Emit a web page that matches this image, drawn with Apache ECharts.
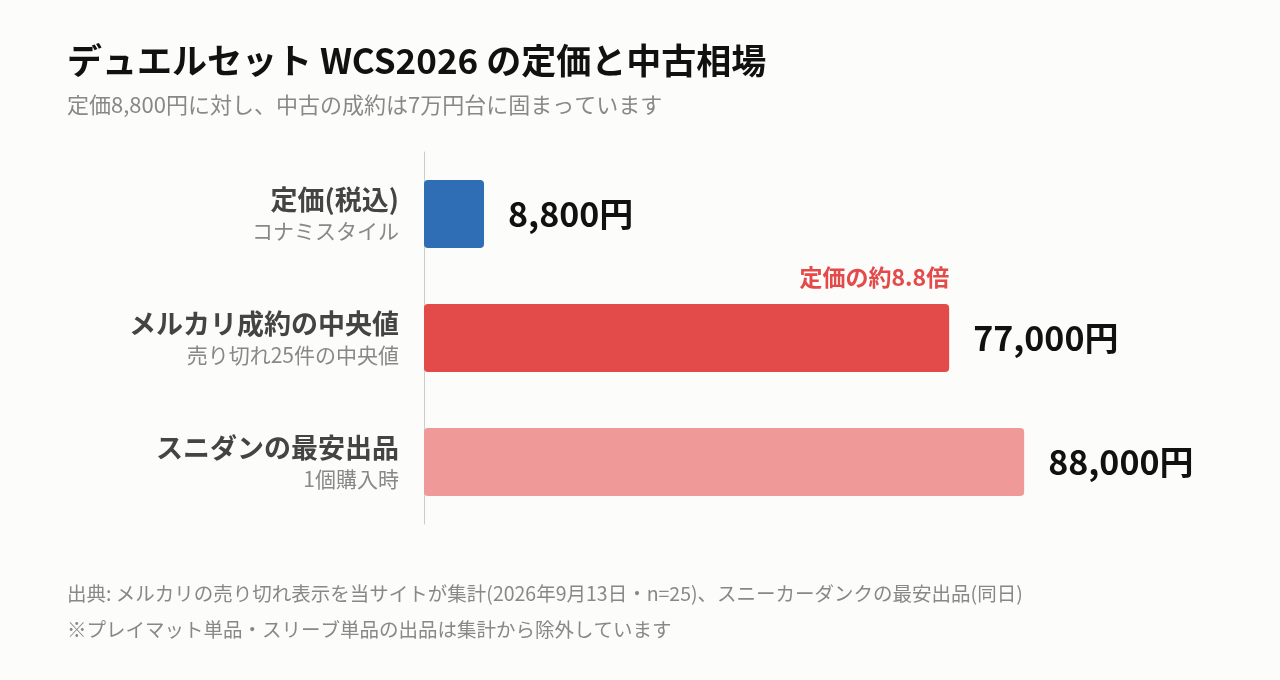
<!DOCTYPE html>
<html><head><meta charset="utf-8">
<script src="https://cdn.jsdelivr.net/npm/echarts@6/dist/echarts.min.js"></script>
<style>html,body{margin:0;background:#fcfcfa}#c{width:1280px;height:680px}</style>
</head><body><div id="c"></div>
<script>
const names = ['定価(税込)', 'メルカリ成約の中央値', 'スニダンの最安出品'];
const subs = ['コナミスタイル', '売り切れ25件の中央値', '1個購入時'];
const values = [8800, 77000, 88000];
const colors = ['#2f6eb5', '#e34a4a', '#ef9a98'];
const note = '定価の約8.8倍';
const noteValues = ['-', 77000, '-'];
const F = '"Noto Sans CJK JP", sans-serif';
const chart = echarts.init(document.getElementById('c'));
chart.setOption({
  backgroundColor: '#fcfcfa',
  textStyle: {fontFamily: F},
  title: [
    {text: 'デュエルセット WCS2026 の定価と中古相場', left: 62, top: 38, textStyle: {fontSize: 35, fontWeight: 'bold', color: '#111', fontFamily: F}},
    {text: '定価8,800円に対し、中古の成約は7万円台に固まっています', left: 62, top: 89, textStyle: {fontSize: 22, fontWeight: 'normal', color: '#888', fontFamily: F}},
    {text: '出典: メルカリの売り切れ表示を当サイトが集計(2026年9月13日・n=25)、スニーカーダンクの最安出品(同日)', left: 62, top: 579, textStyle: {fontSize: 19.5, fontWeight: 'normal', color: '#888', fontFamily: F}},
    {text: '※プレイマット単品・スリーブ単品の出品は集計から除外しています', left: 62, top: 615, textStyle: {fontSize: 19.5, fontWeight: 'normal', color: '#888', fontFamily: F}}
  ],
  grid: {left: 424, right: 174, top: 152, bottom: 156},
  xAxis: {type: 'value', min: 0, max: 100000, show: false},
  yAxis: {type: 'category', inverse: true, data: names,
    axisLine: {lineStyle: {color: '#ccc'}}, axisTick: {show: false},
    axisLabel: {margin: 25, align: 'right', formatter: (v, i) => '{a|' + v + '}\n{b|' + subs[i] + '}',
      rich: {a: {fontSize: 27, fontWeight: 'bold', color: '#444', lineHeight: 34, align: 'right', fontFamily: F},
             b: {fontSize: 21, color: '#888', lineHeight: 28, align: 'right', fontFamily: F}}}},
  series: [{type: 'bar', barWidth: 68,
    data: values.map((v, i) => ({value: v, itemStyle: {color: colors[i], borderRadius: 4}})),
    label: {show: true, position: 'right', distance: 24, fontSize: 34, fontWeight: 'bold', color: '#111', fontFamily: F,
      formatter: p => p.value.toLocaleString('en-US') + '円'}
  }, {type: 'bar', barWidth: 68, barGap: '-100%', silent: true, z: 1,
    data: noteValues, itemStyle: {color: 'rgba(0,0,0,0)'},
    label: {show: true, position: 'insideTopRight', distance: 0, offset: [0, -38], formatter: note,
      fontSize: 23, fontWeight: 'bold', color: '#e34a4a', fontFamily: F}
  }]
});
</script></body></html>
